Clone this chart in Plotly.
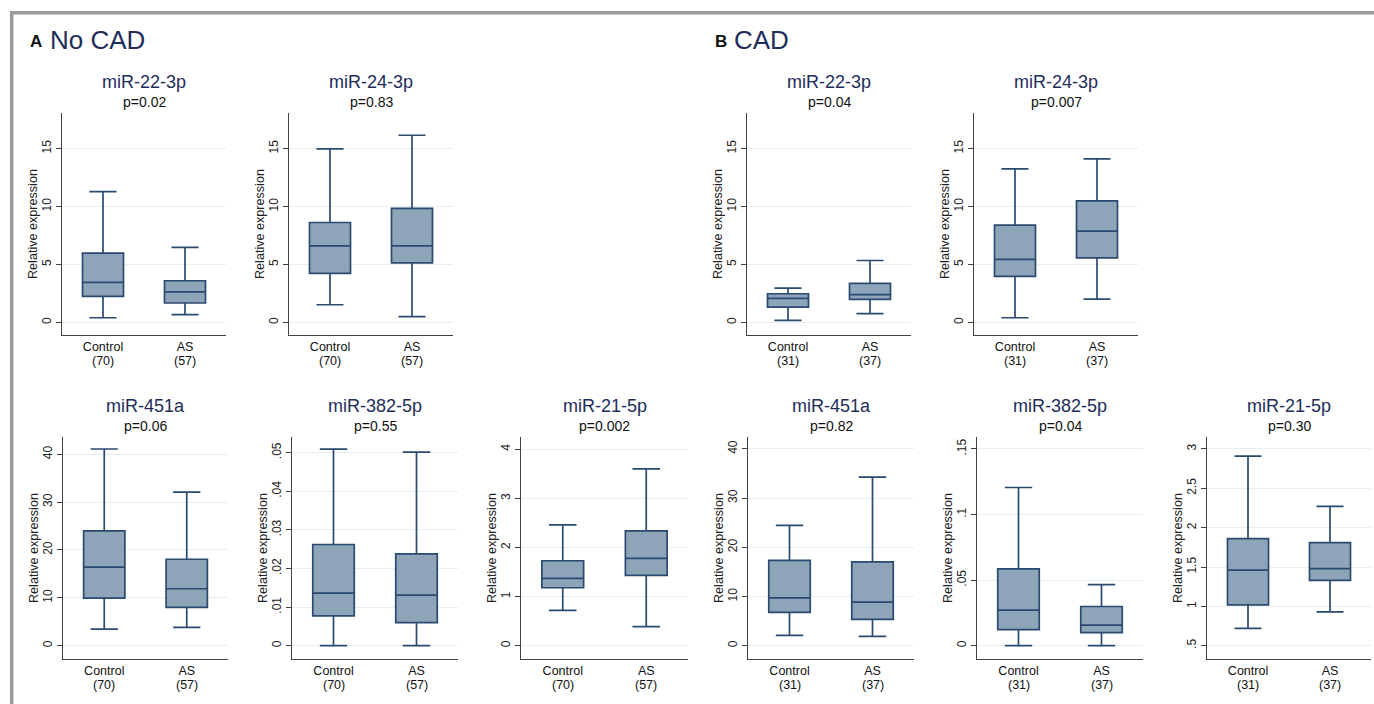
import plotly.graph_objects as go

# ---------------- data ----------------
groups = ["Control", "AS"]
n_nocad = [70, 57]
n_cad = [31, 37]

panel_titles = ["miR-22-3p", "miR-24-3p", "miR-451a", "miR-382-5p", "miR-21-5p",
                "miR-22-3p", "miR-24-3p", "miR-451a", "miR-382-5p", "miR-21-5p"]
p_values = ["p=0.02", "p=0.83", "p=0.06", "p=0.55", "p=0.002",
            "p=0.04", "p=0.007", "p=0.82", "p=0.04", "p=0.30"]

# [Control, AS] for each statistic
lower_w = [[0.40, 0.66], [1.52, 0.49], [3.47, 3.82], [0.0, 0.0], [0.72, 0.39],
           [0.17, 0.75], [0.40, 2.01], [2.09, 1.89], [0.0, 0.0], [0.72, 0.93]]
q1 = [[2.24, 1.67], [4.22, 5.14], [9.93, 7.99], [0.0077, 0.0060], [1.18, 1.43],
      [1.32, 1.98], [3.97, 5.57], [6.76, 5.34], [0.0122, 0.0099], [1.02, 1.33]]
median = [[3.45, 2.64], [6.61, 6.61], [16.4, 11.9], [0.0136, 0.0131], [1.37, 1.78],
          [2.07, 2.39], [5.43, 7.87], [9.73, 8.85], [0.0271, 0.0157], [1.46, 1.48]]
q3 = [[5.98, 3.59], [8.62, 9.83], [24.0, 18.06], [0.0262, 0.0238], [1.73, 2.34],
      [2.47, 3.36], [8.39, 10.49], [17.36, 17.03], [0.0585, 0.0299], [1.86, 1.81]]
upper_w = [[11.29, 6.47], [14.97, 16.15], [41.1, 32.1], [0.0509, 0.0501], [2.46, 3.60],
           [2.96, 5.34], [13.25, 14.11], [24.46, 34.26], [0.1206, 0.0466], [2.91, 2.27]]

y_ranges = [[-1.09, 18.07], [-1.09, 18.07], [-2.78, 43.61], [-0.00344, 0.05404], [-0.271, 4.25],
            [-1.09, 18.07], [-1.09, 18.07], [-2.70, 42.43], [-0.01014, 0.1591], [0.331, 3.152]]
tick_vals = [[0, 5, 10, 15], [0, 5, 10, 15], [0, 10, 20, 30, 40],
             [0, 0.01, 0.02, 0.03, 0.04, 0.05], [0, 1, 2, 3, 4],
             [0, 5, 10, 15], [0, 5, 10, 15], [0, 10, 20, 30, 40],
             [0, 0.05, 0.1, 0.15], [0.5, 1, 1.5, 2, 2.5, 3]]
tick_text = [["0", "5", "10", "15"], ["0", "5", "10", "15"], ["0", "10", "20", "30", "40"],
             ["0", ".01", ".02", ".03", ".04", ".05"], ["0", "1", "2", "3", "4"],
             ["0", "5", "10", "15"], ["0", "5", "10", "15"], ["0", "10", "20", "30", "40"],
             ["0", ".05", ".1", ".15"], [".5", "1", "1.5", "2", "2.5", "3"]]

# ---------------- layout geometry (pixels) ----------------
W, H = 1374, 704
# (x0, x1, y_top, y_bottom) of each plot area
boxes_px = [(62, 226, 113, 335), (289, 453, 113, 335),
            (63, 228, 437, 659), (292, 458, 437, 659), (521, 688, 437, 659),
            (747, 911, 113, 335), (974, 1138, 113, 335),
            (748, 914, 437, 659), (977, 1143, 437, 659), (1207, 1371, 437, 659)]

NAVY = "#1e2d5a"
BOX_LINE = "#2b4a70"
BOX_FILL = "#8ea4b9"
GRID = "#e6eff1"
FONT = "Liberation Sans, Arial, Helvetica, sans-serif"

fig = go.Figure()
layout = dict(width=W, height=H, margin=dict(l=0, r=0, t=0, b=0),
              paper_bgcolor="white", plot_bgcolor="white", showlegend=False,
              font=dict(family=FONT, color="#222"))
annotations = []

for i in range(10):
    k = "" if i == 0 else str(i + 1)
    x0, x1, yt, yb = boxes_px[i]
    counts = n_nocad if i < 5 else n_cad
    fig.add_trace(go.Box(
        x=[0, 1], q1=q1[i], median=median[i], q3=q3[i],
        lowerfence=lower_w[i], upperfence=upper_w[i],
        boxpoints=False, width=0.5, whiskerwidth=0.66,
        fillcolor=BOX_FILL, line=dict(color=BOX_LINE, width=1.7),
        xaxis="x" + k, yaxis="y" + k, hoverinfo="skip"))
    layout["xaxis" + k] = dict(
        domain=[x0 / W, x1 / W], anchor="y" + k, range=[-0.5, 1.5],
        tickmode="array", tickvals=[0, 1], ticktext=groups,
        ticks="", showgrid=False, zeroline=False, showline=True,
        linecolor="#444", linewidth=1, tickfont=dict(size=12.5, color="#111"))
    layout["yaxis" + k] = dict(
        domain=[1 - yb / H, 1 - yt / H], anchor="x" + k, range=y_ranges[i],
        tickmode="array", tickvals=tick_vals[i], ticktext=tick_text[i],
        ticks="outside", ticklen=5, tickcolor="#444", tickangle=-90,
        tickfont=dict(size=12, color="#222"),
        showgrid=True, gridcolor=GRID, gridwidth=1, zeroline=False,
        showline=True, linecolor="#444", linewidth=1)
    # sample sizes under the category labels, tied to the category positions
    for j, n in enumerate(counts):
        annotations.append(dict(text=f"({n})", x=j, xref="x" + k,
                                y=1 - (yb + 26) / H, yref="paper", showarrow=False,
                                xanchor="center", yanchor="middle",
                                font=dict(size=12.5, color="#111", family=FONT)))
    cx = (x0 + x1) / 2 / W
    annotations.append(dict(text=panel_titles[i], x=cx, y=1 - (yt - 31) / H,
                            xref="paper", yref="paper", showarrow=False,
                            xanchor="center", yanchor="middle",
                            font=dict(size=18, color=NAVY, family=FONT)))
    annotations.append(dict(text=p_values[i], x=cx, y=1 - (yt - 11) / H,
                            xref="paper", yref="paper", showarrow=False,
                            xanchor="center", yanchor="middle",
                            font=dict(size=14, color="#111", family=FONT)))
    annotations.append(dict(text="Relative expression", x=(x0 - 29) / W,
                            y=1 - (yt + yb) / 2 / H, xref="paper", yref="paper",
                            showarrow=False, textangle=-90,
                            xanchor="center", yanchor="middle",
                            font=dict(size=12.6, color="#222", family=FONT)))

# section headers
annotations.append(dict(text="<b>A</b>", x=28 / W, y=1 - 53 / H, xref="paper", yref="paper",
                        showarrow=False, xanchor="left", yanchor="bottom",
                        font=dict(size=17, color="#111", family=FONT)))
annotations.append(dict(text="No CAD", x=48 / W, y=1 - 40 / H, xref="paper", yref="paper",
                        showarrow=False, xanchor="left", yanchor="middle",
                        font=dict(size=26, color=NAVY, family=FONT)))
annotations.append(dict(text="<b>B</b>", x=713 / W, y=1 - 53 / H, xref="paper", yref="paper",
                        showarrow=False, xanchor="left", yanchor="bottom",
                        font=dict(size=17, color="#111", family=FONT)))
annotations.append(dict(text="CAD", x=732 / W, y=1 - 40 / H, xref="paper", yref="paper",
                        showarrow=False, xanchor="left", yanchor="middle",
                        font=dict(size=26, color=NAVY, family=FONT)))

layout["annotations"] = annotations
layout["shapes"] = [
    dict(type="line", xref="paper", yref="paper", x0=10 / W, x1=1, y0=1 - 12.7 / H, y1=1 - 12.7 / H,
         line=dict(color="#9c9c9c", width=3.5)),
    dict(type="line", xref="paper", yref="paper", x0=11.7 / W, x1=11.7 / W, y0=0, y1=1 - 11 / H,
         line=dict(color="#9c9c9c", width=3.5)),
]
fig.update_layout(**layout)
fig.write_html("out.html", config={"displayModeBar": False},
               post_script="document.body.style.margin='0';document.body.style.overflow='hidden';")
